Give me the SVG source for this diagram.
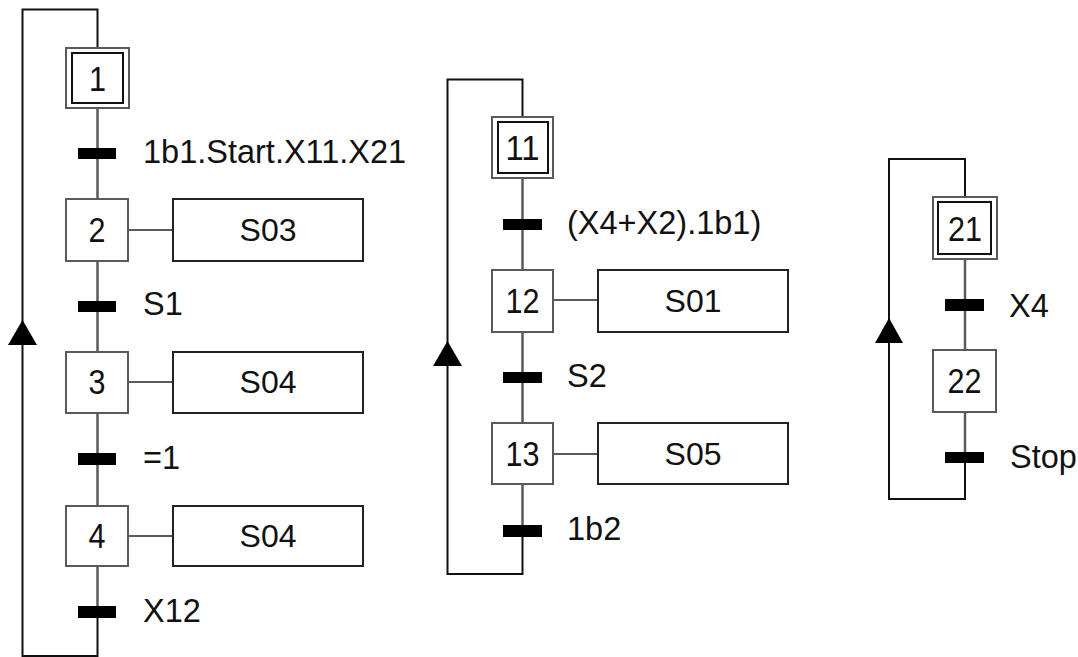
<svg xmlns="http://www.w3.org/2000/svg" width="1078" height="657" viewBox="0 0 1078 657">
<style>
  .loop{fill:none;stroke:#111;stroke-width:2}
  .col{fill:none;stroke:#5a5a5a;stroke-width:2.5}
  .link{fill:none;stroke:#5a5a5a;stroke-width:2}
  .step{fill:#fff;stroke:#5a5a5a;stroke-width:2}
  .inner{fill:#fff;stroke:#111;stroke-width:2}
  .act{fill:#fff;stroke:#222;stroke-width:2}
  .bar{fill:#000}
  .arrow{fill:#000}
  text{font-family:"Liberation Sans",Arial,sans-serif;fill:#111}
  .lbl{font-size:32.5px}
  .num{font-size:35px;text-anchor:middle}
  .acttxt{font-size:32px;text-anchor:middle}
</style>
<rect width="1078" height="657" fill="#fff"/>
<g id="connectors">
  <path class="loop" d="M97.5,48 V9.5 H22.5 V656 H97.5 V612"/>
  <path class="col" d="M97.5,108 V612"/>
  <polygon class="arrow" points="22.5,320 8,345 37,345"/>
  <path class="link" d="M128,230 H173 M128,382 H173 M128,536 H173"/>
  <path class="loop" d="M522.5,117 V79.5 H447.5 V574 H522.5 V531"/>
  <path class="col" d="M522.5,178 V531"/>
  <polygon class="arrow" points="447.5,341 433,366 462,366"/>
  <path class="link" d="M553,300 H598 M553,454 H598"/>
  <path class="loop" d="M965,197 V159 H889 V499 H965 V457"/>
  <path class="col" d="M965,259 V457"/>
  <polygon class="arrow" points="889,318 875,343 903,343"/>
</g>
<g id="step1"><rect class="step" x="66" y="48" width="63" height="60"/><rect class="inner" x="72" y="53" width="51" height="50"/><text class="num" x="97.5" y="91" textLength="17" lengthAdjust="spacingAndGlyphs">1</text></g>
<g id="t1"><rect class="bar" x="78" y="148" width="38" height="11"/><text class="lbl" x="143" y="163">1b1.Start.X11.X21</text></g>
<g id="step2"><rect class="step" x="66" y="199" width="62" height="62"/><text class="num" x="97" y="242" textLength="17" lengthAdjust="spacingAndGlyphs">2</text></g>
<g id="action2"><rect class="act" x="173" y="199" width="190" height="62"/><text class="acttxt" x="268" y="241">S03</text></g>
<g id="t2"><rect class="bar" x="78" y="301" width="38" height="11"/><text class="lbl" x="143" y="315">S1</text></g>
<g id="step3"><rect class="step" x="66" y="352" width="62" height="61"/><text class="num" x="97" y="394" textLength="17" lengthAdjust="spacingAndGlyphs">3</text></g>
<g id="action3"><rect class="act" x="173" y="352" width="190" height="61"/><text class="acttxt" x="268" y="393">S04</text></g>
<g id="t3"><rect class="bar" x="78" y="453" width="38" height="12"/><text class="lbl" x="143" y="469">=1</text></g>
<g id="step4"><rect class="step" x="66" y="506" width="62" height="60"/><text class="num" x="97" y="548" textLength="17" lengthAdjust="spacingAndGlyphs">4</text></g>
<g id="action4"><rect class="act" x="173" y="506" width="190" height="60"/><text class="acttxt" x="268" y="547">S04</text></g>
<g id="t4"><rect class="bar" x="78" y="606" width="38" height="12"/><text class="lbl" x="143" y="622">X12</text></g>

<g id="step11"><rect class="step" x="492" y="117" width="61" height="61"/><rect class="inner" x="498" y="122" width="50" height="51"/><text class="num" x="522.5" y="160" textLength="34" lengthAdjust="spacingAndGlyphs">11</text></g>
<g id="t11"><rect class="bar" x="503" y="219" width="39" height="11"/><text class="lbl" x="567" y="234">(X4+X2).1b1)</text></g>
<g id="step12"><rect class="step" x="492" y="270" width="61" height="62"/><text class="num" x="522.5" y="313" textLength="34" lengthAdjust="spacingAndGlyphs">12</text></g>
<g id="action12"><rect class="act" x="598" y="270" width="190" height="62"/><text class="acttxt" x="693" y="312">S01</text></g>
<g id="t12"><rect class="bar" x="503" y="372" width="39" height="11"/><text class="lbl" x="567" y="387">S2</text></g>
<g id="step13"><rect class="step" x="492" y="423" width="61" height="61"/><text class="num" x="522.5" y="466" textLength="34" lengthAdjust="spacingAndGlyphs">13</text></g>
<g id="action13"><rect class="act" x="598" y="423" width="190" height="61"/><text class="acttxt" x="693" y="465">S05</text></g>
<g id="t13"><rect class="bar" x="503" y="525" width="39" height="12"/><text class="lbl" x="567" y="540">1b2</text></g>

<g id="step21"><rect class="step" x="933" y="197" width="64" height="62"/><rect class="inner" x="938" y="202" width="53" height="52"/><text class="num" x="965" y="241" textLength="34" lengthAdjust="spacingAndGlyphs">21</text></g>
<g id="t21"><rect class="bar" x="945" y="299" width="39" height="12"/><text class="lbl" x="1009" y="317">X4</text></g>
<g id="step22"><rect class="step" x="933" y="350" width="63" height="62"/><text class="num" x="964.5" y="393" textLength="34" lengthAdjust="spacingAndGlyphs">22</text></g>
<g id="t22"><rect class="bar" x="945" y="452" width="39" height="11"/><text class="lbl" x="1010" y="468">Stop</text></g>
</svg>
